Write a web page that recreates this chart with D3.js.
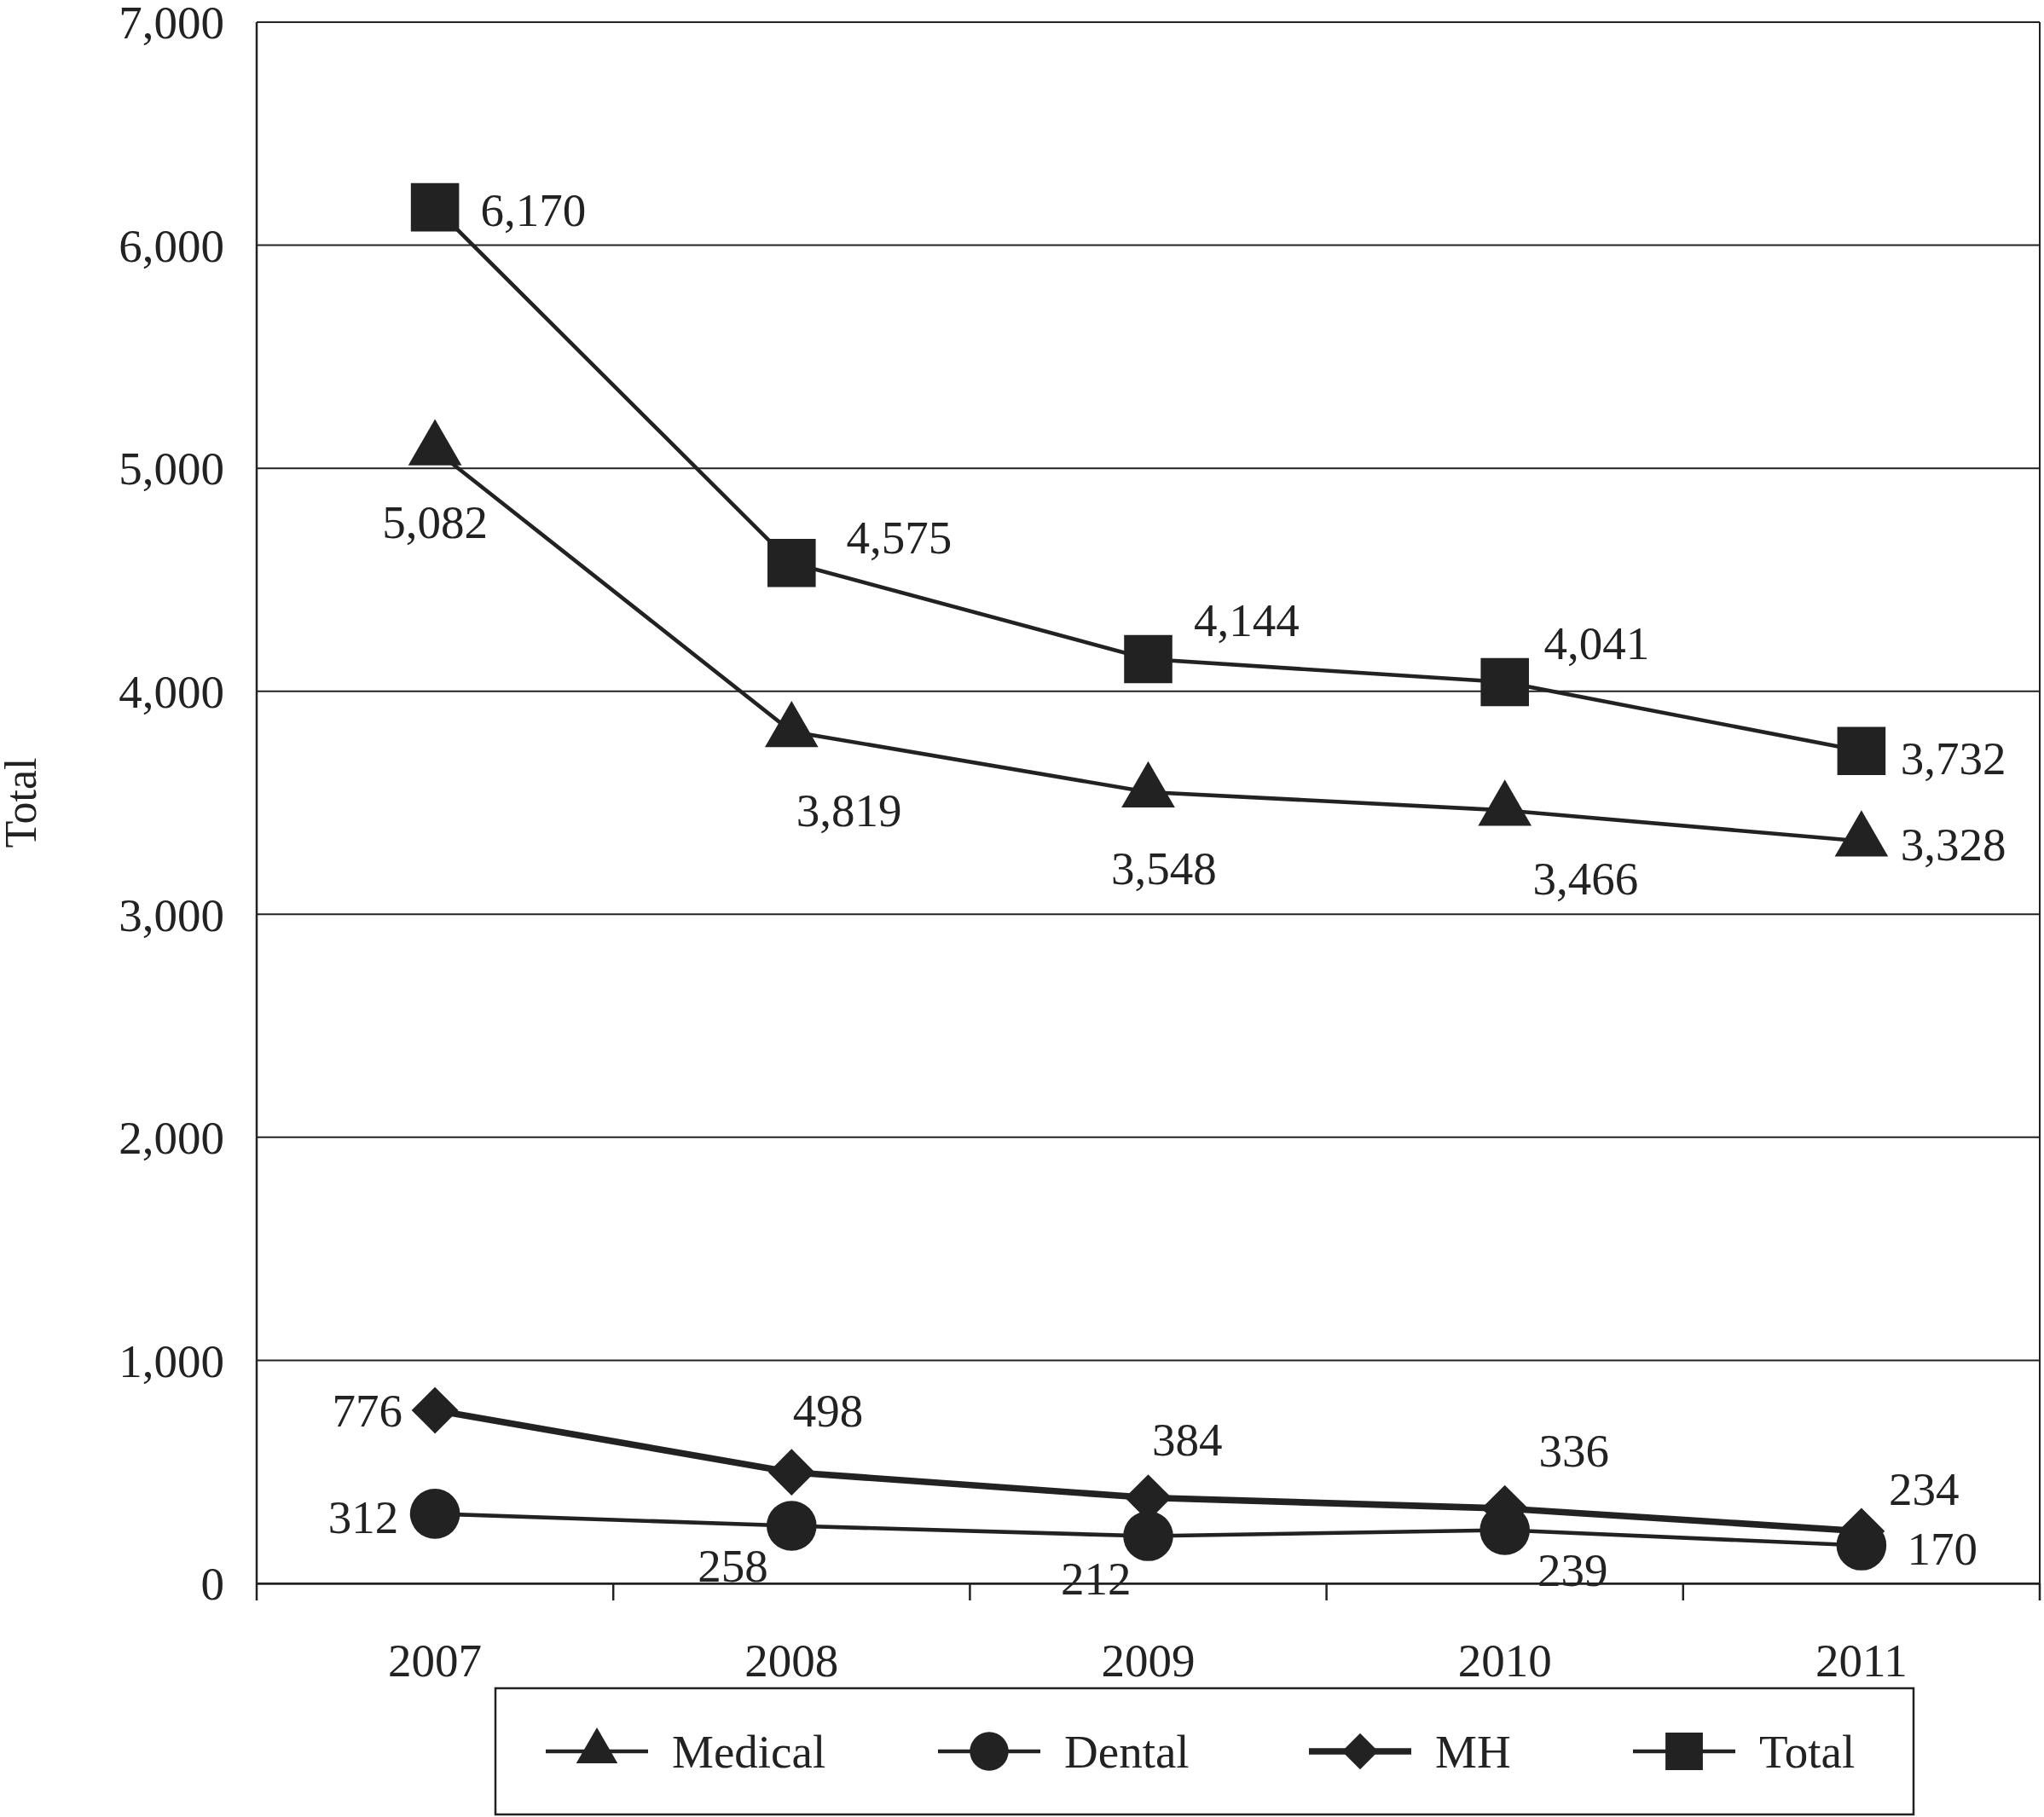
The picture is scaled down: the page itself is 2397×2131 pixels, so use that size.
<!DOCTYPE html>
<html>
<head>
<script src="https://cdn.jsdelivr.net/npm/d3@7"></script>
<style>
body { margin: 0; background: #fff; }
text { font-family: "Liberation Serif", "Times New Roman", serif; fill: #222; }
</style>
</head>
<body>
<script>
var years = ['2007', '2008', '2009', '2010', '2011'];
var yTicks = [0, 1000, 2000, 3000, 4000, 5000, 6000, 7000];
var medical = [5082, 3819, 3548, 3466, 3328];
var dental = [312, 258, 212, 239, 170];
var mh = [776, 498, 384, 336, 234];
var total = [6170, 4575, 4144, 4041, 3732];

// label offsets (px, in a 1568-wide layout, scaled below)
var k = 2397 / 1568;
var series = [
  {name: 'Medical', vals: medical, sym: d3.symbolTriangle, sw: 3, rot: 0,
   off: [[0, 55, 'middle'], [44, 60, 'middle'], [12, 58, 'middle'], [62, 52, 'middle'], [30, 2, 'start']]},
  {name: 'Dental', vals: dental, sym: d3.symbolCircle, sw: 3, rot: 0,
   off: [[-28, 2, 'end'], [-45, 30, 'middle'], [-40, 32, 'middle'], [52, 30, 'middle'], [35, 2, 'start']]},
  {name: 'MH', vals: mh, sym: d3.symbolSquare, sw: 5, rot: 45,
   off: [[-25, 0, 'end'], [28, -48, 'middle'], [30, -45, 'middle'], [53, -45, 'middle'], [48, -33, 'middle']]},
  {name: 'Total', vals: total, sym: d3.symbolSquare, sw: 3, rot: 0,
   off: [[35, 2, 'start'], [42, -20, 'start'], [35, -30, 'start'], [30, -30, 'start'], [30, 5, 'start']]}
];
var symSize = {Medical: 1700, Dental: 2700, MH: 1500, Total: 3200};

var W = 2397, H = 2131;
var svg = d3.select('body').append('svg').attr('width', W).attr('height', H);
var pLeft = 301, pRight = 2392, pTop = 26, pBottom = 1857;

var x = d3.scaleBand().domain(years).range([pLeft, pRight]);
var y = d3.scaleLinear().domain([0, 7000]).range([pBottom, pTop]);
var cx = function(i) { return x(years[i]) + x.bandwidth() / 2; };

// grid
svg.selectAll('.grid').data(yTicks).enter().append('line')
  .attr('x1', pLeft).attr('x2', pRight)
  .attr('y1', function(d) { return y(d); }).attr('y2', function(d) { return y(d); })
  .attr('stroke', '#222').attr('stroke-width', 2);
svg.append('line').attr('x1', pLeft).attr('x2', pLeft).attr('y1', pTop).attr('y2', pBottom)
  .attr('stroke', '#222').attr('stroke-width', 2.5);
svg.append('line').attr('x1', pRight).attr('x2', pRight).attr('y1', pTop).attr('y2', pBottom)
  .attr('stroke', '#222').attr('stroke-width', 2);

// y axis labels
svg.selectAll('.yl').data(yTicks).enter().append('text')
  .attr('x', pLeft - 38).attr('y', function(d) { return y(d); })
  .attr('dy', '0.35em').attr('text-anchor', 'end').attr('font-size', 55)
  .text(d3.format(','));

// x axis
var xAxis = svg.append('g').attr('transform', 'translate(0,' + pBottom + ')')
  .call(d3.axisBottom(x).tickSize(0).tickPadding(70));
xAxis.select('.domain').attr('stroke', '#222').attr('stroke-width', 2.5);
xAxis.selectAll('text').attr('font-size', 55).style('font-family', '"Liberation Serif", serif').attr('fill', '#222');
var bounds = years.map(function(d) { return x(d); }).concat([pRight]);
svg.selectAll('.xt').data(bounds).enter().append('line')
  .attr('x1', function(d) { return d; }).attr('x2', function(d) { return d; })
  .attr('y1', pBottom).attr('y2', pBottom + 20).attr('stroke', '#222').attr('stroke-width', 2.5);

svg.append('text').attr('transform', 'translate(42,' + (y(3500)) + ') rotate(-90)')
  .attr('text-anchor', 'middle').attr('font-size', 52).text('Total');

var line = d3.line().x(function(d, i) { return cx(i); }).y(function(d) { return y(d); });

series.forEach(function(s) {
  svg.append('path').datum(s.vals).attr('d', line).attr('fill', 'none')
    .attr('stroke', '#222').attr('stroke-width', s.sw * k);
  svg.selectAll('.m' + s.name).data(s.vals).enter().append('path')
    .attr('d', d3.symbol().type(s.sym).size(symSize[s.name]))
    .attr('transform', function(d, i) { return 'translate(' + cx(i) + ',' + y(d) + ') rotate(' + s.rot + ')'; })
    .attr('fill', '#222');
  svg.selectAll('.l' + s.name).data(s.vals).enter().append('text')
    .attr('x', function(d, i) { return cx(i) + s.off[i][0] * k; })
    .attr('y', function(d, i) { return y(d) + s.off[i][1] * k; })
    .attr('dy', '0.35em').attr('text-anchor', function(d, i) { return s.off[i][2]; })
    .attr('font-size', 55).text(d3.format(','));
});

// legend
var lg = svg.append('g');
lg.append('rect').attr('x', 581).attr('y', 1980).attr('width', 1663).attr('height', 148)
  .attr('fill', 'none').attr('stroke', '#222').attr('stroke-width', 2.5);
var lx = [640, 1100, 1535, 1915];
series.forEach(function(s, i) {
  var ly = 2054;
  lg.append('line').attr('x1', lx[i]).attr('x2', lx[i] + 120).attr('y1', ly).attr('y2', ly)
    .attr('stroke', '#222').attr('stroke-width', s.sw * k);
  lg.append('path').attr('d', d3.symbol().type(s.sym).size(symSize[s.name] * 0.6))
    .attr('transform', 'translate(' + (lx[i] + 60) + ',' + ly + ') rotate(' + s.rot + ')').attr('fill', '#222');
  lg.append('text').attr('x', lx[i] + 148).attr('y', ly).attr('dy', '0.35em')
    .attr('font-size', 55).text(s.name);
});
</script>
</body>
</html>
